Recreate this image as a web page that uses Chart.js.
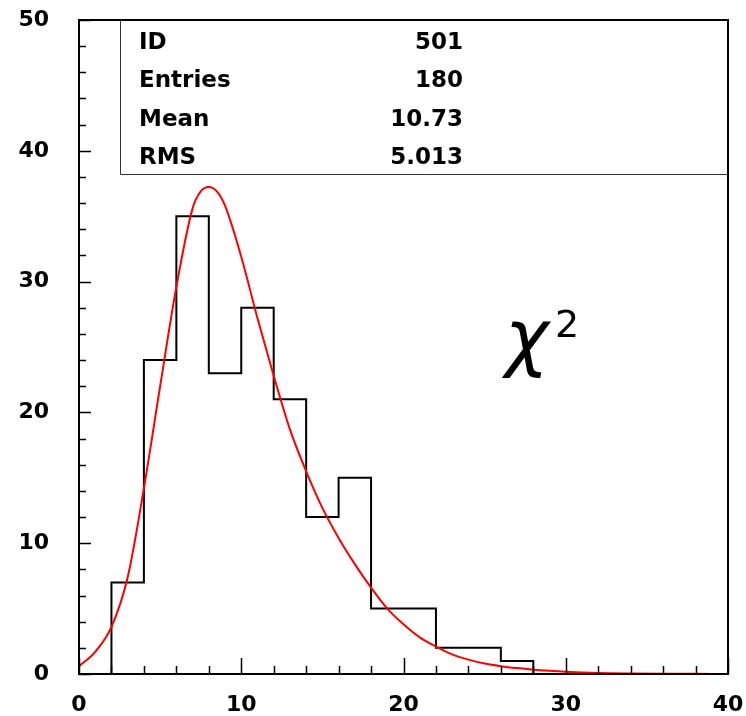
<!DOCTYPE html>
<html>
<head>
<meta charset="utf-8">
<script src="https://cdn.jsdelivr.net/npm/chart.js@4.4.1/dist/chart.umd.min.js"></script>
<style>
  html, body { margin: 0; padding: 0; background: #fff; }
  #wrap { width: 746px; height: 716px; }
</style>
</head>
<body>
<div id="wrap"><canvas id="grafico"></canvas></div>
<script>
// Dados do histograma (bins de largura 2)
const binLow = [0, 2, 4, 6, 8, 10, 12, 14, 16, 18, 20, 22, 24, 26, 28, 30, 32, 34, 36, 38];
const counts = [0, 7, 24, 35, 23, 28, 21, 12, 15, 5, 5, 2, 2, 1, 0, 0, 0, 0, 0, 0];
const xMax = 40;

// Curva ajustada
const fitX = [0, 1, 2, 3, 4, 5, 6, 7, 7.5, 8, 8.5, 9, 10, 11, 12, 13, 14, 15, 16, 17, 18, 19, 20,
    21, 22, 23, 24, 25, 26, 27, 28, 29, 30, 32, 34, 36, 38, 40];
const fitY = [0.6, 1.7, 3.6, 7.4, 14.2, 22.0, 29.6, 35.6, 36.9, 37.24, 36.9, 35.8, 31.9, 27.2, 22.8,
    18.7, 15.5, 12.7, 10.4, 8.4, 6.6, 5.0, 3.8, 2.8, 2.1, 1.5, 1.1, 0.8, 0.6, 0.45, 0.33, 0.24,
    0.17, 0.08, 0.04, 0.02, 0.01, 0.0];

// Estatísticas
const statLabels = ['ID', 'Entries', 'Mean', 'RMS'];
const statValues = ['501', '180', '10.73', '5.013'];

const xTicks = [0, 10, 20, 30, 40];
const yTicks = [0, 10, 20, 30, 40, 50];

const histData = binLow.map((x, i) => ({ x: x, y: counts[i] }));
histData.push({ x: xMax, y: 0 });
const fitData = fitX.map((x, i) => ({ x: x, y: fitY[i] }));

// moldura, marcas internas, caixa de estatísticas e rótulo
const decor = {
    id: 'decor',
    afterDatasetsDraw(chart) {
        const ctx = chart.ctx;
        const a = chart.chartArea;
        const sx = chart.scales.x, sy = chart.scales.y;
        ctx.save();
        ctx.strokeStyle = '#000';
        ctx.lineWidth = 1.5;
        ctx.beginPath();
        for (let v = 0; v <= 40; v += 2) {
            const px = Math.round(sx.getPixelForValue(v)) + 0.5;
            const len = v % 10 === 0 ? 16 : 8;
            ctx.moveTo(px, a.bottom);
            ctx.lineTo(px, a.bottom - len);
        }
        for (let v = 0; v <= 50; v += 2) {
            const py = Math.round(sy.getPixelForValue(v)) + 0.5;
            const len = v % 10 === 0 ? 12 : 7;
            ctx.moveTo(a.left, py);
            ctx.lineTo(a.left + len, py);
        }
        ctx.stroke();

        // moldura
        ctx.lineWidth = 2;
        ctx.strokeRect(a.left, a.top, a.right - a.left, a.bottom - a.top);

        // caixa de estatísticas
        const bx = 120.5, by = a.top, bb = 174.5;
        ctx.fillStyle = '#fff';
        ctx.fillRect(bx, by + 1, a.right - bx - 1, bb - by - 1);
        ctx.strokeStyle = '#333';
        ctx.lineWidth = 1;
        ctx.beginPath();
        ctx.moveTo(bx, by);
        ctx.lineTo(bx, bb);
        ctx.lineTo(a.right, bb);
        ctx.stroke();

        ctx.fillStyle = '#000';
        ctx.font = 'bold 23px "DejaVu Sans"';
        ctx.textBaseline = 'alphabetic';
        statLabels.forEach((t, i) => {
            const y = 49 + i * 38.4;
            ctx.textAlign = 'left';
            ctx.fillText(t, 139, y);
            ctx.textAlign = 'right';
            ctx.fillText(statValues[i], 463, y);
        });

        // chi quadrado
        ctx.textAlign = 'left';
        ctx.font = 'italic 74px "DejaVu Sans"';
        ctx.fillText('\u03C7', 505, 362);
        ctx.font = '38px "DejaVu Sans"';
        ctx.fillText('2', 555, 337);
        ctx.restore();
    }
};

const noPad = (s) => { s.paddingLeft = 0; s.paddingRight = 0; s.paddingTop = 0; s.paddingBottom = 0; };

new Chart(document.getElementById('grafico').getContext('2d'), {
    type: 'line',
    data: {
        datasets: [{
            data: fitData,
            order: 0,
            borderColor: '#ff0000',
            borderWidth: 2,
            pointRadius: 0,
            cubicInterpolationMode: 'monotone',
            fill: false
        }, {
            data: histData,
            order: 1,
            stepped: 'before',
            borderColor: '#000',
            borderWidth: 2,
            pointRadius: 0,
            fill: false
        }]
    },
    options: {
        responsive: true,
        maintainAspectRatio: false,
        animation: false,
        layout: { padding: { top: 20, right: 18, left: 0, bottom: 0 } },
        plugins: { legend: { display: false }, tooltip: { enabled: false } },
        scales: {
            x: {
                type: 'linear',
                min: 0,
                max: xMax,
                afterFit: (s) => { s.height = 42; noPad(s); },
                afterBuildTicks: (s) => { s.ticks = xTicks.map(v => ({ value: v })); },
                grid: { display: false, drawTicks: false },
                border: { display: false },
                ticks: {
                    padding: 18,
                    color: '#000',
                    maxRotation: 0,
                    font: { family: 'DejaVu Sans', weight: 'bold', size: 22 }
                }
            },
            y: {
                min: 0,
                max: 50,
                afterFit: (s) => { s.width = 79; noPad(s); },
                afterBuildTicks: (s) => { s.ticks = yTicks.map(v => ({ value: v })); },
                grid: { display: false, drawTicks: false },
                border: { display: false },
                ticks: {
                    padding: 30,
                    color: '#000',
                    font: { family: 'DejaVu Sans', weight: 'bold', size: 22 }
                }
            }
        }
    },
    plugins: [decor]
});
</script>
</body>
</html>
